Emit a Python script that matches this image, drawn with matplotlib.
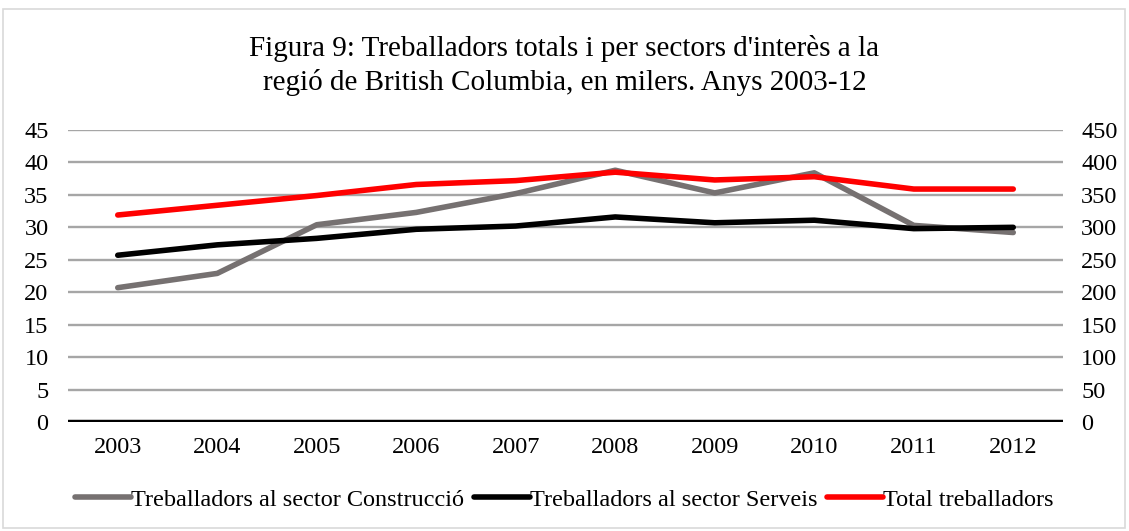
import matplotlib
matplotlib.use("Agg")
import matplotlib.pyplot as plt
from matplotlib.patches import Rectangle

years = ["2003", "2004", "2005", "2006", "2007", "2008", "2009", "2010", "2011", "2012"]
construccio = [20.7, 22.9, 30.4, 32.3, 35.2, 38.8, 35.3, 38.4, 30.3, 29.2]
serveis = [25.7, 27.3, 28.3, 29.7, 30.2, 31.6, 30.7, 31.1, 29.8, 30.0]
total = [319, 334, 349, 366, 372, 385, 373, 378, 359, 359]

left_ticks = list(range(0, 50, 5))
right_ticks = list(range(0, 500, 50))

plt.rcParams['font.family'] = ['Liberation Serif', 'DejaVu Serif']

fig = plt.figure(figsize=(11.29, 5.31), dpi=100)
fig.patches.append(Rectangle((3 / 1129, 3 / 531), 1122 / 1129, 519 / 531,
                             transform=fig.transFigure, fill=False,
                             edgecolor='#D9D9D9', linewidth=1.2))

ax = fig.add_axes([68 / 1129, 1 - 422 / 531, (1063 - 68) / 1129, (422 - 130) / 531])
ax2 = ax.twinx()

x = list(range(len(years)))
LW = 4.0
l1, = ax.plot(x, construccio, color='#767171', lw=LW, solid_capstyle='round',
              label='Treballadors al sector Construcció', zorder=3)
l2, = ax.plot(x, serveis, color='#000000', lw=LW, solid_capstyle='round',
              label='Treballadors al sector Serveis', zorder=4)

ax.set_xlim(-0.5, len(years) - 0.5)
ax.set_ylim(0, 45)
ax2.set_ylim(0, 450)
ax.set_yticks(left_ticks)
ax2.set_yticks(right_ticks)
ax.set_xticks(x)
ax.set_xticklabels(years)

for a in (ax, ax2):
    for s in a.spines.values():
        s.set_visible(False)
    a.tick_params(length=0, labelsize=17.5)
ax.tick_params(axis='y', pad=14)
ax2.tick_params(axis='y', pad=13)
ax.tick_params(axis='x', pad=11)

for t in left_ticks[1:]:
    ax.axhline(t, color='#A6A6A6', lw=1.7, zorder=1)
ax.axhline(0, color='#000000', lw=3.2, zorder=2)

ax.set_zorder(ax2.get_zorder() + 1)
ax.patch.set_visible(False)
# Total series read on the right axis (0-450); drawn on the left axes scaled by right/left ratio
scale = ax2.get_ylim()[1] / ax.get_ylim()[1]
red = ax.plot(x, [v / scale for v in total], color='#FF0000', lw=LW,
              solid_capstyle='round', label='Total treballadors', zorder=5)[0]

fig.text(0.5, 1 - 48 / 531, "Figura 9: Treballadors totals i per sectors d'interès a la",
         ha='center', va='center', fontsize=21)
fig.text(0.5, 1 - 83 / 531, "regió de British Columbia, en milers. Anys 2003-12",
         ha='center', va='center', fontsize=21)

fig.legend(handles=[l1, l2, red], loc='center', bbox_to_anchor=(0.5, 1 - 500 / 531),
           ncol=3, frameon=False, fontsize=17.5, handlelength=2.3, handletextpad=0.0,
           columnspacing=0.4)

fig.savefig('out.png', dpi=100)
